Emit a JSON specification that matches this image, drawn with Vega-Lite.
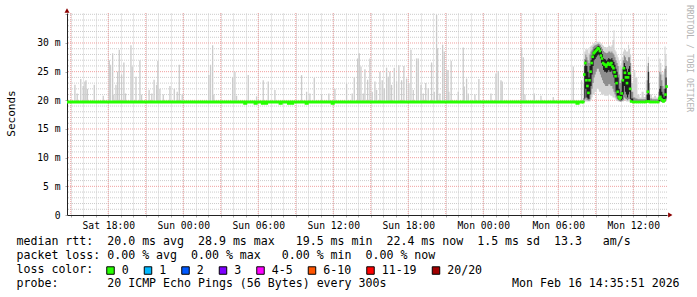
{
  "$schema": "https://vega.github.io/schema/vega-lite/v6.json",
  "width": 600,
  "height": 202,
  "autosize": {"type": "none"},
  "padding": {"left": 67, "top": 13, "right": 30, "bottom": 82},
  "background": "white",
  "config": {"view": {"stroke": null}, "font": "DejaVu Sans Mono"},
  "title": {"text": "RRDTOOL / TOBI OETIKER", "orient": "right", "anchor": "start", "frame": "group", "angle": 90, "align": "left", "baseline": "middle", "offset": 1.5, "dx": -8, "font": "DejaVu Sans Mono", "fontSize": 8.1, "fontWeight": "normal", "color": "#b4b4b4"},
  "datasets": {
    "majorTimes": [
      {"t": "2026-02-14T15:00"}, {"t": "2026-02-14T18:00"}, {"t": "2026-02-14T21:00"},
      {"t": "2026-02-15T00:00"}, {"t": "2026-02-15T03:00"}, {"t": "2026-02-15T06:00"}, {"t": "2026-02-15T09:00"},
      {"t": "2026-02-15T12:00"}, {"t": "2026-02-15T15:00"}, {"t": "2026-02-15T18:00"}, {"t": "2026-02-15T21:00"},
      {"t": "2026-02-16T00:00"}, {"t": "2026-02-16T03:00"}, {"t": "2026-02-16T06:00"}, {"t": "2026-02-16T09:00"},
      {"t": "2026-02-16T12:00"}
    ],
    "minorValues": [
      {"v": 1}, {"v": 2}, {"v": 3}, {"v": 4}, {"v": 6}, {"v": 7}, {"v": 8}, {"v": 9},
      {"v": 11}, {"v": 12}, {"v": 13}, {"v": 14}, {"v": 16}, {"v": 17}, {"v": 18}, {"v": 19},
      {"v": 21}, {"v": 22}, {"v": 23}, {"v": 24}, {"v": 26}, {"v": 27}, {"v": 28}, {"v": 29},
      {"v": 31}, {"v": 32}, {"v": 33}, {"v": 34}, {"v": 35}
    ],
    "majorValues": [{"v": 5}, {"v": 10}, {"v": 15}, {"v": 20}, {"v": 25}, {"v": 30}],
    "spikes": [
      {"t": "2026-02-14T15:20", "hi": 22.7}, {"t": "2026-02-14T15:31", "hi": 21.2}, {"t": "2026-02-14T15:48", "hi": 23.7},
      {"t": "2026-02-14T16:00", "hi": 22.5}, {"t": "2026-02-14T16:08", "hi": 23.3}, {"t": "2026-02-14T16:13", "hi": 23.5},
      {"t": "2026-02-14T16:20", "hi": 22.0}, {"t": "2026-02-14T16:53", "hi": 22.7}, {"t": "2026-02-14T17:36", "hi": 20.8},
      {"t": "2026-02-14T18:05", "hi": 27.0}, {"t": "2026-02-14T18:11", "hi": 26.2}, {"t": "2026-02-14T18:21", "hi": 28.2},
      {"t": "2026-02-14T18:27", "hi": 21.0}, {"t": "2026-02-14T18:37", "hi": 22.7}, {"t": "2026-02-14T18:45", "hi": 25.0},
      {"t": "2026-02-14T18:53", "hi": 28.8}, {"t": "2026-02-14T19:04", "hi": 24.5}, {"t": "2026-02-14T19:15", "hi": 26.6},
      {"t": "2026-02-14T19:23", "hi": 21.2}, {"t": "2026-02-14T19:49", "hi": 29.6}, {"t": "2026-02-14T19:55", "hi": 25.9},
      {"t": "2026-02-14T20:13", "hi": 24.1}, {"t": "2026-02-14T20:32", "hi": 27.0}, {"t": "2026-02-14T20:40", "hi": 21.0},
      {"t": "2026-02-14T21:16", "hi": 21.8}, {"t": "2026-02-14T21:29", "hi": 21.2}, {"t": "2026-02-14T21:40", "hi": 23.6},
      {"t": "2026-02-14T21:52", "hi": 22.7}, {"t": "2026-02-14T21:58", "hi": 26.9}, {"t": "2026-02-14T22:08", "hi": 22.0},
      {"t": "2026-02-14T22:24", "hi": 21.0}, {"t": "2026-02-14T22:56", "hi": 22.5}, {"t": "2026-02-14T23:17", "hi": 22.0},
      {"t": "2026-02-14T23:31", "hi": 21.5}, {"t": "2026-02-14T23:41", "hi": 26.2}, {"t": "2026-02-14T23:55", "hi": 21.0},
      {"t": "2026-02-15T02:03", "hi": 24.4}, {"t": "2026-02-15T02:11", "hi": 26.2}, {"t": "2026-02-15T02:21", "hi": 29.6},
      {"t": "2026-02-15T02:27", "hi": 21.0}, {"t": "2026-02-15T03:57", "hi": 24.0}, {"t": "2026-02-15T04:08", "hi": 25.0},
      {"t": "2026-02-15T04:16", "hi": 20.8}, {"t": "2026-02-15T05:12", "hi": 24.4}, {"t": "2026-02-15T05:52", "hi": 20.7},
      {"t": "2026-02-15T06:24", "hi": 23.5}, {"t": "2026-02-15T06:48", "hi": 23.3}, {"t": "2026-02-15T07:20", "hi": 21.8},
      {"t": "2026-02-15T09:28", "hi": 24.4}, {"t": "2026-02-15T09:52", "hi": 21.5}, {"t": "2026-02-15T10:08", "hi": 21.2},
      {"t": "2026-02-15T10:29", "hi": 23.9}, {"t": "2026-02-15T11:04", "hi": 21.0}, {"t": "2026-02-15T11:39", "hi": 21.2},
      {"t": "2026-02-15T12:08", "hi": 22.0}, {"t": "2026-02-15T13:04", "hi": 22.9}, {"t": "2026-02-15T13:31", "hi": 21.2},
      {"t": "2026-02-15T13:41", "hi": 24.0}, {"t": "2026-02-15T13:57", "hi": 27.3}, {"t": "2026-02-15T14:05", "hi": 28.2},
      {"t": "2026-02-15T14:13", "hi": 25.9}, {"t": "2026-02-15T14:24", "hi": 21.2}, {"t": "2026-02-15T14:32", "hi": 25.4},
      {"t": "2026-02-15T14:45", "hi": 23.6}, {"t": "2026-02-15T14:56", "hi": 27.3}, {"t": "2026-02-15T15:07", "hi": 21.5},
      {"t": "2026-02-15T15:20", "hi": 23.3}, {"t": "2026-02-15T15:28", "hi": 21.8}, {"t": "2026-02-15T15:44", "hi": 25.0},
      {"t": "2026-02-15T15:55", "hi": 23.5}, {"t": "2026-02-15T16:05", "hi": 22.1}, {"t": "2026-02-15T16:16", "hi": 25.7},
      {"t": "2026-02-15T16:24", "hi": 24.1}, {"t": "2026-02-15T16:32", "hi": 25.0}, {"t": "2026-02-15T16:40", "hi": 22.7},
      {"t": "2026-02-15T16:53", "hi": 25.7}, {"t": "2026-02-15T17:04", "hi": 23.3}, {"t": "2026-02-15T17:15", "hi": 26.1},
      {"t": "2026-02-15T17:28", "hi": 23.5}, {"t": "2026-02-15T17:39", "hi": 26.0}, {"t": "2026-02-15T17:52", "hi": 23.8},
      {"t": "2026-02-15T18:03", "hi": 23.0}, {"t": "2026-02-15T18:13", "hi": 28.8}, {"t": "2026-02-15T18:24", "hi": 21.8},
      {"t": "2026-02-15T18:40", "hi": 27.3}, {"t": "2026-02-15T18:48", "hi": 27.3}, {"t": "2026-02-15T19:01", "hi": 22.7},
      {"t": "2026-02-15T19:12", "hi": 21.2}, {"t": "2026-02-15T19:24", "hi": 23.0}, {"t": "2026-02-15T19:36", "hi": 22.1},
      {"t": "2026-02-15T19:52", "hi": 26.6}, {"t": "2026-02-15T20:05", "hi": 21.5}, {"t": "2026-02-15T20:16", "hi": 34.9},
      {"t": "2026-02-15T20:21", "hi": 29.1}, {"t": "2026-02-15T20:32", "hi": 21.2}, {"t": "2026-02-15T20:45", "hi": 29.7},
      {"t": "2026-02-15T20:53", "hi": 28.5}, {"t": "2026-02-15T21:04", "hi": 25.3}, {"t": "2026-02-15T21:11", "hi": 25.3},
      {"t": "2026-02-15T21:15", "hi": 21.5}, {"t": "2026-02-15T21:26", "hi": 26.9}, {"t": "2026-02-15T22:00", "hi": 21.5},
      {"t": "2026-02-15T22:24", "hi": 29.2}, {"t": "2026-02-15T22:29", "hi": 22.4}, {"t": "2026-02-15T22:40", "hi": 23.8},
      {"t": "2026-02-15T22:48", "hi": 21.2}, {"t": "2026-02-15T23:20", "hi": 21.0}, {"t": "2026-02-15T23:39", "hi": 23.7},
      {"t": "2026-02-16T00:37", "hi": 21.2}, {"t": "2026-02-16T01:01", "hi": 24.7}, {"t": "2026-02-16T01:12", "hi": 25.1},
      {"t": "2026-02-16T01:25", "hi": 23.5}, {"t": "2026-02-16T01:31", "hi": 23.3}, {"t": "2026-02-16T03:04", "hi": 29.1},
      {"t": "2026-02-16T03:12", "hi": 27.5}, {"t": "2026-02-16T03:20", "hi": 21.0}, {"t": "2026-02-16T04:05", "hi": 21.2},
      {"t": "2026-02-16T04:37", "hi": 20.8}, {"t": "2026-02-16T05:36", "hi": 20.6}, {"t": "2026-02-16T07:12", "hi": 25.9},
      {"t": "2026-02-16T07:52", "hi": 23.5}
    ],
    "baseline": [
      {"t": "2026-02-14T14:42", "med": 19.7},
      {"t": "2026-02-15T04:55", "med": 19.5}, {"t": "2026-02-15T05:00", "med": 19.7},
      {"t": "2026-02-15T05:45", "med": 19.5}, {"t": "2026-02-15T05:50", "med": 19.7},
      {"t": "2026-02-15T06:20", "med": 19.5}, {"t": "2026-02-15T06:25", "med": 19.7},
      {"t": "2026-02-15T06:35", "med": 19.5}, {"t": "2026-02-15T06:40", "med": 19.7},
      {"t": "2026-02-15T07:45", "med": 19.5}, {"t": "2026-02-15T07:50", "med": 19.7},
      {"t": "2026-02-15T08:25", "med": 19.5}, {"t": "2026-02-15T08:30", "med": 19.7},
      {"t": "2026-02-15T08:40", "med": 19.5}, {"t": "2026-02-15T08:45", "med": 19.7},
      {"t": "2026-02-15T09:50", "med": 19.5}, {"t": "2026-02-15T09:55", "med": 19.7},
      {"t": "2026-02-15T11:55", "med": 19.5}, {"t": "2026-02-15T12:00", "med": 19.7},
      {"t": "2026-02-16T07:30", "med": 19.5}, {"t": "2026-02-16T07:35", "med": 19.7},
      {"t": "2026-02-16T08:00", "med": 19.7}
    ],
    "active": [
      {"t": "2026-02-16T08:00", "med": 19.7, "lo": 19.6, "glo": 19.7, "klo": 19.7, "khi": 19.9, "ghi": 20.4, "hi": 23.0, "loss": "0"},
      {"t": "2026-02-16T08:05", "med": 24.5, "lo": 19.8, "glo": 20.0, "klo": 20.3, "khi": 26.0, "ghi": 27.2, "hi": 28.5, "loss": "0"},
      {"t": "2026-02-16T08:10", "med": 26.5, "lo": 19.8, "glo": 20.5, "klo": 22.0, "khi": 27.0, "ghi": 28.0, "hi": 29.0, "loss": "0"},
      {"t": "2026-02-16T08:15", "med": 23.5, "lo": 19.8, "glo": 20.0, "klo": 20.5, "khi": 26.0, "ghi": 27.5, "hi": 28.8, "loss": "0"},
      {"t": "2026-02-16T08:20", "med": 22.5, "lo": 19.8, "glo": 20.0, "klo": 20.3, "khi": 25.0, "ghi": 27.0, "hi": 29.0, "loss": "0"},
      {"t": "2026-02-16T08:25", "med": 21.3, "lo": 19.8, "glo": 19.9, "klo": 20.2, "khi": 24.0, "ghi": 26.5, "hi": 28.2, "loss": "0"},
      {"t": "2026-02-16T08:30", "med": 23.5, "lo": 19.8, "glo": 20.2, "klo": 21.0, "khi": 26.0, "ghi": 28.0, "hi": 29.3, "loss": "0"},
      {"t": "2026-02-16T08:35", "med": 25.0, "lo": 20.0, "glo": 21.0, "klo": 22.5, "khi": 27.0, "ghi": 28.5, "hi": 29.5, "loss": "0"},
      {"t": "2026-02-16T08:40", "med": 26.5, "lo": 20.5, "glo": 22.0, "klo": 24.5, "khi": 27.8, "ghi": 28.8, "hi": 29.6, "loss": "0"},
      {"t": "2026-02-16T08:45", "med": 27.6, "lo": 21.0, "glo": 23.0, "klo": 26.0, "khi": 28.5, "ghi": 29.3, "hi": 29.9, "loss": "0"},
      {"t": "2026-02-16T08:50", "med": 28.2, "lo": 21.0, "glo": 24.0, "klo": 27.0, "khi": 28.9, "ghi": 29.5, "hi": 30.0, "loss": "0"},
      {"t": "2026-02-16T08:55", "med": 28.4, "lo": 21.5, "glo": 24.5, "klo": 27.2, "khi": 29.1, "ghi": 29.6, "hi": 30.1, "loss": "0"},
      {"t": "2026-02-16T09:00", "med": 28.6, "lo": 21.5, "glo": 25.0, "klo": 27.5, "khi": 29.2, "ghi": 29.7, "hi": 30.1, "loss": "0"},
      {"t": "2026-02-16T09:05", "med": 28.8, "lo": 22.0, "glo": 25.5, "klo": 27.8, "khi": 29.4, "ghi": 29.8, "hi": 30.2, "loss": "0"},
      {"t": "2026-02-16T09:10", "med": 29.1, "lo": 22.0, "glo": 25.5, "klo": 28.0, "khi": 29.5, "ghi": 29.9, "hi": 30.2, "loss": "0"},
      {"t": "2026-02-16T09:15", "med": 29.0, "lo": 21.5, "glo": 25.0, "klo": 27.8, "khi": 29.4, "ghi": 29.8, "hi": 30.2, "loss": "0"},
      {"t": "2026-02-16T09:20", "med": 28.6, "lo": 21.5, "glo": 24.5, "klo": 27.3, "khi": 29.1, "ghi": 29.6, "hi": 30.0, "loss": "0"},
      {"t": "2026-02-16T09:25", "med": 27.8, "lo": 21.0, "glo": 24.0, "klo": 26.5, "khi": 28.6, "ghi": 29.3, "hi": 29.9, "loss": "0"},
      {"t": "2026-02-16T09:30", "med": 27.3, "lo": 21.0, "glo": 23.5, "klo": 26.0, "khi": 28.1, "ghi": 29.0, "hi": 29.7, "loss": "0"},
      {"t": "2026-02-16T09:35", "med": 26.5, "lo": 21.0, "glo": 23.0, "klo": 25.3, "khi": 27.4, "ghi": 28.6, "hi": 29.5, "loss": "0"},
      {"t": "2026-02-16T09:40", "med": 26.3, "lo": 20.8, "glo": 22.8, "klo": 25.0, "khi": 27.2, "ghi": 28.4, "hi": 29.3, "loss": "0"},
      {"t": "2026-02-16T09:45", "med": 26.2, "lo": 20.8, "glo": 22.5, "klo": 25.0, "khi": 27.1, "ghi": 28.3, "hi": 29.3, "loss": "0"},
      {"t": "2026-02-16T09:50", "med": 25.9, "lo": 20.8, "glo": 22.5, "klo": 24.8, "khi": 26.9, "ghi": 28.2, "hi": 29.2, "loss": "0"},
      {"t": "2026-02-16T09:55", "med": 26.2, "lo": 20.8, "glo": 22.5, "klo": 25.0, "khi": 27.1, "ghi": 28.3, "hi": 29.3, "loss": "0"},
      {"t": "2026-02-16T10:00", "med": 26.5, "lo": 21.0, "glo": 22.8, "klo": 25.3, "khi": 27.4, "ghi": 28.5, "hi": 29.5, "loss": "0"},
      {"t": "2026-02-16T10:05", "med": 26.3, "lo": 21.0, "glo": 22.8, "klo": 25.0, "khi": 27.2, "ghi": 28.5, "hi": 29.5, "loss": "0"},
      {"t": "2026-02-16T10:10", "med": 26.2, "lo": 20.8, "glo": 22.5, "klo": 25.0, "khi": 27.1, "ghi": 28.3, "hi": 29.3, "loss": "0"},
      {"t": "2026-02-16T10:15", "med": 26.5, "lo": 20.8, "glo": 22.5, "klo": 25.2, "khi": 27.4, "ghi": 28.5, "hi": 29.6, "loss": "0"},
      {"t": "2026-02-16T10:20", "med": 25.9, "lo": 20.5, "glo": 22.0, "klo": 24.5, "khi": 27.0, "ghi": 28.2, "hi": 30.5, "loss": "0"},
      {"t": "2026-02-16T10:25", "med": 25.6, "lo": 20.5, "glo": 21.5, "klo": 24.0, "khi": 26.7, "ghi": 28.0, "hi": 32.2, "loss": "0"},
      {"t": "2026-02-16T10:30", "med": 24.9, "lo": 20.3, "glo": 21.0, "klo": 23.0, "khi": 26.2, "ghi": 27.5, "hi": 28.8, "loss": "0"},
      {"t": "2026-02-16T10:35", "med": 24.2, "lo": 20.0, "glo": 20.5, "klo": 21.5, "khi": 25.5, "ghi": 27.0, "hi": 28.5, "loss": "0"},
      {"t": "2026-02-16T10:40", "med": 23.0, "lo": 19.9, "glo": 20.2, "klo": 20.8, "khi": 25.0, "ghi": 26.5, "hi": 28.0, "loss": "0"},
      {"t": "2026-02-16T10:45", "med": 21.5, "lo": 19.8, "glo": 20.0, "klo": 20.3, "khi": 24.0, "ghi": 26.0, "hi": 27.5, "loss": "0"},
      {"t": "2026-02-16T10:50", "med": 20.6, "lo": 19.8, "glo": 19.9, "klo": 20.1, "khi": 22.0, "ghi": 24.5, "hi": 27.0, "loss": "0"},
      {"t": "2026-02-16T10:55", "med": 20.3, "lo": 19.7, "glo": 19.8, "klo": 20.0, "khi": 21.0, "ghi": 23.0, "hi": 26.0, "loss": "0"},
      {"t": "2026-02-16T11:00", "med": 20.5, "lo": 19.7, "glo": 19.8, "klo": 20.0, "khi": 21.5, "ghi": 23.5, "hi": 26.5, "loss": "0"},
      {"t": "2026-02-16T11:05", "med": 21.2, "lo": 19.8, "glo": 19.9, "klo": 20.2, "khi": 23.5, "ghi": 25.5, "hi": 27.5, "loss": "0"},
      {"t": "2026-02-16T11:10", "med": 23.5, "lo": 19.8, "glo": 20.0, "klo": 21.0, "khi": 25.5, "ghi": 27.0, "hi": 28.5, "loss": "0"},
      {"t": "2026-02-16T11:15", "med": 25.6, "lo": 20.0, "glo": 20.5, "klo": 22.5, "khi": 26.5, "ghi": 27.8, "hi": 29.0, "loss": "0"},
      {"t": "2026-02-16T11:20", "med": 24.8, "lo": 19.9, "glo": 20.3, "klo": 21.5, "khi": 26.0, "ghi": 27.5, "hi": 28.8, "loss": "0"},
      {"t": "2026-02-16T11:25", "med": 24.0, "lo": 19.8, "glo": 20.2, "klo": 21.0, "khi": 25.5, "ghi": 27.0, "hi": 28.5, "loss": "0"},
      {"t": "2026-02-16T11:30", "med": 23.0, "lo": 19.8, "glo": 20.0, "klo": 20.5, "khi": 25.0, "ghi": 26.8, "hi": 28.5, "loss": "0"},
      {"t": "2026-02-16T11:35", "med": 24.0, "lo": 19.8, "glo": 20.2, "klo": 21.0, "khi": 25.5, "ghi": 27.5, "hi": 29.7, "loss": "0"},
      {"t": "2026-02-16T11:40", "med": 24.7, "lo": 19.8, "glo": 20.2, "klo": 21.5, "khi": 26.0, "ghi": 27.5, "hi": 29.0, "loss": "0"},
      {"t": "2026-02-16T11:45", "med": 22.0, "lo": 19.7, "glo": 19.9, "klo": 20.2, "khi": 24.5, "ghi": 26.5, "hi": 28.0, "loss": "0"},
      {"t": "2026-02-16T11:50", "med": 19.8, "lo": 19.6, "glo": 19.7, "klo": 19.7, "khi": 20.3, "ghi": 21.5, "hi": 23.0, "loss": "0"},
      {"t": "2026-02-16T12:00", "med": 19.7, "lo": 19.6, "glo": 19.7, "klo": 19.7, "khi": 19.9, "ghi": 20.5, "hi": 25.3, "loss": "0"},
      {"t": "2026-02-16T12:10", "med": 19.7, "lo": 19.6, "glo": 19.7, "klo": 19.7, "khi": 19.9, "ghi": 20.3, "hi": 24.0, "loss": "0"},
      {"t": "2026-02-16T12:20", "med": 19.7, "lo": 19.6, "glo": 19.7, "klo": 19.7, "khi": 19.9, "ghi": 20.2, "hi": 21.0, "loss": "0"},
      {"t": "2026-02-16T12:30", "med": 19.7, "lo": 19.6, "glo": 19.7, "klo": 19.7, "khi": 19.9, "ghi": 20.2, "hi": 20.5, "loss": "0"},
      {"t": "2026-02-16T12:40", "med": 19.7, "lo": 19.6, "glo": 19.7, "klo": 19.7, "khi": 19.9, "ghi": 20.2, "hi": 21.5, "loss": "0"},
      {"t": "2026-02-16T12:50", "med": 19.7, "lo": 19.6, "glo": 19.7, "klo": 19.7, "khi": 19.9, "ghi": 20.2, "hi": 20.6, "loss": "0"},
      {"t": "2026-02-16T13:00", "med": 19.7, "lo": 19.6, "glo": 19.7, "klo": 19.7, "khi": 20.0, "ghi": 21.0, "hi": 23.5, "loss": "0"},
      {"t": "2026-02-16T13:05", "med": 19.8, "lo": 19.6, "glo": 19.7, "klo": 19.8, "khi": 21.0, "ghi": 23.5, "hi": 26.0, "loss": "0"},
      {"t": "2026-02-16T13:10", "med": 21.5, "lo": 19.7, "glo": 19.8, "klo": 20.0, "khi": 25.0, "ghi": 26.5, "hi": 27.6, "loss": "0"},
      {"t": "2026-02-16T13:15", "med": 19.8, "lo": 19.6, "glo": 19.7, "klo": 19.8, "khi": 21.0, "ghi": 23.0, "hi": 25.0, "loss": "0"},
      {"t": "2026-02-16T13:20", "med": 19.7, "lo": 19.6, "glo": 19.7, "klo": 19.7, "khi": 19.9, "ghi": 20.3, "hi": 21.0, "loss": "0"},
      {"t": "2026-02-16T13:30", "med": 19.7, "lo": 19.6, "glo": 19.7, "klo": 19.7, "khi": 19.9, "ghi": 20.2, "hi": 20.5, "loss": "0"},
      {"t": "2026-02-16T13:40", "med": 19.7, "lo": 19.6, "glo": 19.7, "klo": 19.7, "khi": 19.9, "ghi": 20.2, "hi": 20.8, "loss": "0"},
      {"t": "2026-02-16T13:50", "med": 19.7, "lo": 19.6, "glo": 19.7, "klo": 19.7, "khi": 19.9, "ghi": 20.2, "hi": 20.5, "loss": "0"},
      {"t": "2026-02-16T14:00", "med": 19.7, "lo": 19.6, "glo": 19.7, "klo": 19.7, "khi": 20.0, "ghi": 21.5, "hi": 24.0, "loss": "0"},
      {"t": "2026-02-16T14:05", "med": 20.3, "lo": 19.7, "glo": 19.8, "klo": 19.9, "khi": 22.0, "ghi": 25.0, "hi": 27.3, "loss": "0"},
      {"t": "2026-02-16T14:10", "med": 20.6, "lo": 19.7, "glo": 19.8, "klo": 20.0, "khi": 22.5, "ghi": 24.5, "hi": 26.5, "loss": "0"},
      {"t": "2026-02-16T14:15", "med": 20.2, "lo": 19.6, "glo": 19.7, "klo": 19.8, "khi": 21.5, "ghi": 23.5, "hi": 25.0, "loss": "0"},
      {"t": "2026-02-16T14:20", "med": 20.0, "lo": 19.6, "glo": 19.7, "klo": 19.8, "khi": 21.0, "ghi": 22.5, "hi": 24.5, "loss": "0"},
      {"t": "2026-02-16T14:25", "med": 19.8, "lo": 19.6, "glo": 19.7, "klo": 19.7, "khi": 20.5, "ghi": 22.0, "hi": 25.0, "loss": "0"},
      {"t": "2026-02-16T14:30", "med": 20.0, "lo": 19.7, "glo": 19.8, "klo": 19.9, "khi": 22.0, "ghi": 25.5, "hi": 29.4, "loss": "0"},
      {"t": "2026-02-16T14:35", "med": 21.0, "lo": 19.8, "glo": 20.0, "klo": 20.3, "khi": 24.0, "ghi": 26.0, "hi": 28.0, "loss": "0"},
      {"t": "2026-02-16T14:40", "med": 22.4, "lo": 19.8, "glo": 20.0, "klo": 20.5, "khi": 24.5, "ghi": 26.5, "hi": 28.5, "loss": "0"}
    ]
  },
  "layer": [
    {
      "data": {"name": "minorValues"},
      "mark": {"type": "rule", "color": "#cccccc", "strokeDash": [1, 1], "strokeWidth": 1},
      "encoding": {
        "y": {
          "field": "v", "type": "quantitative",
          "scale": {"domain": [0, 35.23], "nice": false},
          "axis": {
            "orient": "left", "title": "Seconds",
            "titleX": -56, "titleY": 100, "titleAngle": -90, "titleAlign": "center", "titleBaseline": "middle",
            "titleFont": "DejaVu Sans Mono", "titleFontSize": 11, "titleFontWeight": "normal", "titleColor": "#000000",
            "tickCount": 7,
            "labelExpr": "datum.value > 30 ? '' : (datum.value == 0 ? '0' : datum.label + ' m')",
            "labelFont": "DejaVu Sans Mono", "labelFontSize": 9.7, "labelColor": "#000000",
            "labelPadding": 5, "labelOverlap": false, "labelFlush": false, "labelBound": false,
            "ticks": true, "tickSize": 2, "tickColor": "#aaaaaa",
            "domain": true, "domainColor": "#222222", "domainWidth": 1,
            "grid": false
          }
        }
      }
    },
    {
      "data": {"name": "majorTimes"},
      "mark": {"type": "rule", "color": "#f0a0a0", "strokeDash": [1, 1], "strokeWidth": 1},
      "encoding": {
        "x": {
          "field": "t", "type": "temporal",
          "scale": {"domain": [
            {"year": 2026, "month": 2, "date": 14, "hours": 14, "minutes": 42},
            {"year": 2026, "month": 2, "date": 16, "hours": 14, "minutes": 42}
          ]},
          "axis": {
            "title": [
              "median rtt:\u00a0\u00a020.0 ms avg\u00a0\u00a028.9 ms max\u00a0\u00a0\u00a019.5 ms min\u00a0\u00a022.4 ms now\u00a0\u00a01.5 ms sd\u00a0\u00a013.3\u00a0\u00a0\u00a0am/s",
              "packet loss: 0.00 % avg\u00a0\u00a00.00 % max\u00a0\u00a0\u00a00.00 % min\u00a0\u00a00.00 % now",
              "loss color:",
              "probe:\u00a0\u00a0\u00a0\u00a0\u00a0\u00a0\u00a020 ICMP Echo Pings (56 Bytes) every 300s\u00a0\u00a0\u00a0\u00a0\u00a0\u00a0\u00a0\u00a0\u00a0\u00a0\u00a0\u00a0\u00a0\u00a0\u00a0\u00a0\u00a0\u00a0Mon Feb 16 14:35:51 2026"
            ],
            "titleX": -51, "titleY": 29.7, "titleAlign": "left", "titleAnchor": "start",
            "titleBaseline": "alphabetic", "titleLineHeight": 14,
            "titleFont": "DejaVu Sans Mono", "titleFontSize": 11.6, "titleFontWeight": "normal", "titleColor": "#000000",
            "tickCount": 48,
            "labelExpr": "hours(datum.value) % 6 == 0 ? timeFormat(datum.value, '%a %H:%M') : ''",
            "labelFont": "DejaVu Sans Mono", "labelFontSize": 9.7, "labelColor": "#000000",
            "labelPadding": 3, "labelOverlap": false, "labelFlush": false, "labelBound": false,
            "ticks": true, "tickSize": 2, "tickColor": "#aaaaaa",
            "domain": true, "domainColor": "#222222", "domainWidth": 1,
            "grid": true, "gridColor": "#cccccc", "gridDash": [1, 1], "gridWidth": 1
          }
        }
      }
    },
    {
      "data": {"name": "majorValues"},
      "mark": {"type": "rule", "color": "#f0a0a0", "strokeDash": [1, 1], "strokeWidth": 1},
      "encoding": {
        "y": {"field": "v", "type": "quantitative"}
      }
    },
    {
      "data": {"name": "spikes"},
      "mark": {"type": "rule", "color": "#cbcbcb", "strokeWidth": 1.3},
      "encoding": {
        "x": {"field": "t", "type": "temporal"},
        "y": {"field": "hi", "type": "quantitative"},
        "y2": {"datum": 19.9}
      }
    },
    {
      "data": {"name": "active"},
      "mark": {"type": "area", "interpolate": "step-after", "color": "#d4d4d4"},
      "encoding": {
        "x": {"field": "t", "type": "temporal"},
        "y": {"field": "lo", "type": "quantitative"},
        "y2": {"field": "hi"}
      }
    },
    {
      "data": {"name": "active"},
      "mark": {"type": "area", "interpolate": "step-after", "color": "#8e8e8e"},
      "encoding": {
        "x": {"field": "t", "type": "temporal"},
        "y": {"field": "glo", "type": "quantitative"},
        "y2": {"field": "ghi"}
      }
    },
    {
      "data": {"name": "active"},
      "mark": {"type": "area", "interpolate": "step-after", "color": "#1e1e1e"},
      "encoding": {
        "x": {"field": "t", "type": "temporal"},
        "y": {"field": "klo", "type": "quantitative"},
        "y2": {"field": "khi"}
      }
    },
    {
      "data": {"name": "baseline"},
      "mark": {"type": "line", "interpolate": "step-after", "color": "#26ff00", "strokeWidth": 3},
      "encoding": {
        "x": {"field": "t", "type": "temporal"},
        "y": {"field": "med", "type": "quantitative"}
      }
    },
    {
      "data": {"name": "active"},
      "mark": {"type": "point", "shape": "square", "filled": true, "size": 7, "opacity": 1},
      "encoding": {
        "x": {"field": "t", "type": "temporal"},
        "y": {"field": "med", "type": "quantitative"},
        "color": {
          "field": "loss", "type": "nominal",
          "scale": {
            "domain": ["0", "1", "2", "3", "4-5", "6-10", "11-19", "20/20"],
            "range": ["#26ff00", "#00b8ff", "#0059ff", "#7e00ff", "#ff00ff", "#ff5500", "#ff0000", "#a10000"]
          },
          "legend": {
            "title": null, "orient": "none", "legendX": 37.7, "legendY": 251.5,
            "direction": "horizontal",
            "labelFont": "DejaVu Sans Mono", "labelFontSize": 11.6, "labelColor": "#000000", "labelOffset": 5.4,
            "columnPadding": 13.5, "symbolType": "square", "symbolSize": 56,
            "symbolStrokeColor": "#000000", "symbolStrokeWidth": 1, "symbolOpacity": 1,
            "padding": 0, "labelLimit": 200
          }
        }
      }
    },
    {
      "data": {"values": [{}]},
      "mark": {"type": "point", "shape": "triangle-up", "filled": true, "size": 25, "color": "#8b0000", "opacity": 1, "yOffset": -2.5},
      "encoding": {
        "x": {"datum": {"year": 2026, "month": 2, "date": 14, "hours": 14, "minutes": 42}, "type": "temporal"},
        "y": {"datum": 35.23, "type": "quantitative"}
      }
    },
    {
      "data": {"values": [{}]},
      "mark": {"type": "point", "shape": "triangle-right", "filled": true, "size": 25, "color": "#8b0000", "opacity": 1, "xOffset": 3.3},
      "encoding": {
        "x": {"datum": {"year": 2026, "month": 2, "date": 16, "hours": 14, "minutes": 42}, "type": "temporal"},
        "y": {"datum": 0, "type": "quantitative"}
      }
    }
  ]
}
